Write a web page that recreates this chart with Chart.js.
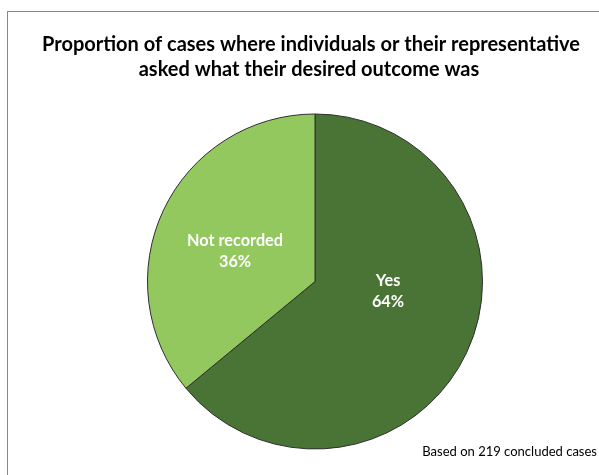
<!DOCTYPE html>
<html>
<head>
<meta charset="utf-8">
<script src="https://cdn.jsdelivr.net/npm/chart.js@4/dist/chart.umd.min.js"></script>
<style>
  html, body { margin: 0; padding: 0; background: #ffffff; overflow: hidden; width: 599px; height: 475px; }
  #frame { position: absolute; left: 7px; top: 11px; width: 700px; height: 600px; border: 1px solid #888888; background: #ffffff; }
  #c { position: absolute; left: 0; top: 0; }
</style>
</head>
<body>
<div id="frame"></div>
<canvas id="c" width="599" height="475"></canvas>
<script>
// ---- data ----
const categories = ['Yes', 'Not recorded'];
const percentages = [64, 36];
const sliceColors = ['#4a7436', '#92c85e'];
const titleLines = ['Proportion of cases where individuals or their representative', 'asked what their desired outcome was'];
const footnote = 'Based on 219 concluded cases';

const FAMILY = 'Lato, "Open Sans", sans-serif';

function fitSize(ctx, text, weight, target) {
  ctx.font = weight + ' 20px ' + FAMILY;
  const w = ctx.measureText(text).width;
  return 20 * target / w;
}

const textPlugin = {
  id: 'textPlugin',
  afterDraw(chart) {
    const ctx = chart.ctx;
    ctx.save();
    // title
    const tSize = fitSize(ctx, titleLines[0], 'bold', 538);
    ctx.font = 'bold ' + tSize.toFixed(2) + 'px ' + FAMILY;
    ctx.fillStyle = '#000000';
    ctx.textAlign = 'center';
    ctx.textBaseline = 'alphabetic';
    ctx.fillText(titleLines[0], 311, 51);
    ctx.fillText(titleLines[1], 309, 76);
    // footnote
    const fSize = fitSize(ctx, footnote, 'normal', 175);
    ctx.font = 'normal ' + fSize.toFixed(2) + 'px ' + FAMILY;
    ctx.textAlign = 'right';
    ctx.fillText(footnote, 597, 456);

    // slice labels
    const meta = chart.getDatasetMeta(0);
    const placement = [{ shift: -17.4, ratio: 0.44 }, { shift: -4.6, ratio: 0.51 }];
    const lSize = fitSize(ctx, 'Not recorded', 'bold', 96);
    ctx.font = 'bold ' + lSize.toFixed(2) + 'px ' + FAMILY;
    ctx.fillStyle = '#ffffff';
    ctx.textAlign = 'center';
    ctx.textBaseline = 'middle';
    meta.data.forEach((arc, i) => {
      const p = arc.getProps(['x', 'y', 'startAngle', 'endAngle', 'outerRadius'], true);
      const mid = (p.startAngle + p.endAngle) / 2 + placement[i].shift * Math.PI / 180;
      const r = p.outerRadius * placement[i].ratio;
      const cx = p.x + Math.cos(mid) * r;
      const cy = p.y + Math.sin(mid) * r;
      ctx.fillText(categories[i], cx, cy - 10.5);
      ctx.fillText(percentages[i] + '%', cx, cy + 10.5);
    });
    ctx.restore();
  }
};

new Chart(document.getElementById('c'), {
  type: 'pie',
  data: {
    labels: categories,
    datasets: [{
      data: percentages,
      backgroundColor: sliceColors,
      borderColor: '#2e2e2e',
      borderWidth: 1
    }]
  },
  options: {
    responsive: false,
    animation: false,
    layout: { padding: { top: 113, bottom: 25, left: 147, right: 116 } },
    plugins: {
      legend: { display: false },
      title: { display: false },
      tooltip: { enabled: false }
    }
  },
  plugins: [textPlugin]
});
</script>
</body>
</html>
